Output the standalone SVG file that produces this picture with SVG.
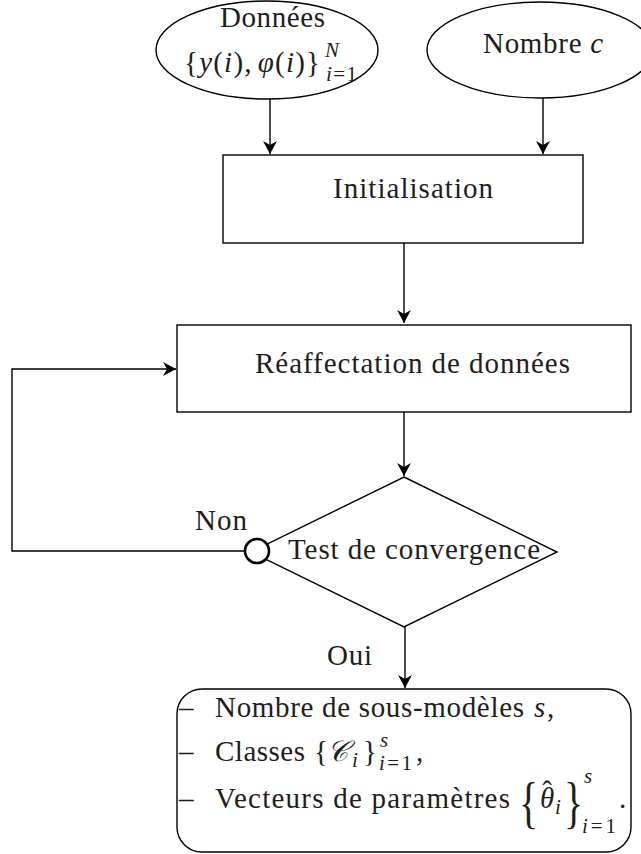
<svg xmlns="http://www.w3.org/2000/svg" width="641" height="854" viewBox="0 0 641 854">
<style>
.shape{fill:#fff;stroke:#000;stroke-width:1.4}
.conn{fill:none;stroke:#000;stroke-width:1.4}
text{font-family:"Liberation Serif","Times New Roman",serif;font-size:29px;fill:#1e1e1e}
.it{font-style:italic}
.up{font-style:normal}
.sm{font-size:21px}
.big{font-size:57px}
</style>
<defs>
<marker id="arr" markerUnits="userSpaceOnUse" markerWidth="16" markerHeight="16" viewBox="-14 -8 16 16" refX="0" refY="0" orient="auto">
<path d="M0,0 L-13,-7 L-9,0 L-13,7 Z" fill="#000"/>
</marker>
</defs>
<rect width="641" height="854" fill="#fff"/>
<g id="connectors">
<line class="conn" x1="270" y1="99" x2="270" y2="154" marker-end="url(#arr)"/>
<line class="conn" x1="543" y1="98" x2="543" y2="154" marker-end="url(#arr)"/>
<line class="conn" x1="404" y1="243" x2="404" y2="323" marker-end="url(#arr)"/>
<line class="conn" x1="404" y1="412" x2="404" y2="476" marker-end="url(#arr)"/>
<line class="conn" x1="405" y1="627" x2="405" y2="688" marker-end="url(#arr)"/>
<path class="conn" d="M244,551 H12 V369 H176" marker-end="url(#arr)"/>
<text x="195" y="530" textLength="52">Non</text>
<text x="327" y="665" textLength="45">Oui</text>
</g>
<g id="donnees">
<ellipse class="shape" cx="267" cy="50" rx="111" ry="49"/>
<text x="220" y="27" textLength="105">Données</text>
<text x="184" y="72" textLength="136">{<tspan class="it">y</tspan>(<tspan class="it">i</tspan>),<tspan class="it" dx="5">φ</tspan>(<tspan class="it">i</tspan>)}</text>
<text class="sm it" x="325" y="57">N</text>
<text class="sm" x="326" y="81" textLength="31"><tspan class="it">i</tspan>=1</text>
</g>
<g id="nombre">
<ellipse class="shape" cx="540" cy="50" rx="113" ry="48"/>
<text x="483" y="53" textLength="120">Nombre <tspan class="it">c</tspan></text>
</g>
<g id="init">
<rect class="shape" x="223" y="155" width="360" height="88"/>
<text x="333" y="198" textLength="160">Initialisation</text>
</g>
<g id="reaff">
<rect class="shape" x="177" y="325" width="454" height="87"/>
<text x="255" y="373" textLength="315">Réaffectation de données</text>
</g>
<g id="test">
<polygon class="shape" points="404,477 557,552 404,627 251,552"/>
<circle cx="257" cy="551" r="12" fill="#fff" stroke="#000" stroke-width="2.6"/>
<text x="288" y="559" textLength="252">Test de convergence</text>
</g>
<g id="resultat">
<rect class="shape" x="177" y="689" width="454" height="163" rx="25" ry="25"/>
<text x="179" y="717">–</text>
<text x="215" y="717" textLength="309">Nombre de sous-modèles</text>
<text x="534" y="717"><tspan class="it">s</tspan><tspan x="547">,</tspan></text>
<text x="179" y="761">–</text>
<text x="215" y="761" textLength="90">Classes</text>
<text x="314" y="761">{<tspan class="it" x="327">𝒞</tspan><tspan class="sm it" x="352" y="767">i</tspan><tspan x="363" y="761">}</tspan></text>
<text class="sm it" x="380" y="747">s</text>
<text class="sm" x="379" y="770" textLength="33"><tspan class="it">i</tspan>=1</text>
<text x="416" y="761">,</text>
<text x="179" y="808">–</text>
<text x="215" y="808" textLength="295">Vecteurs de paramètres</text>
<text class="big" transform="matrix(0.7 0 0 1 519 822)">{</text>
<text class="it" x="540" y="808">θ<tspan class="up" dx="-12" dy="-7">ˆ</tspan><tspan class="sm" x="555" y="814">i</tspan></text>
<text class="big" transform="matrix(0.7 0 0 1 564 822)">}</text>
<text class="sm it" x="584" y="783">s</text>
<text class="sm" x="582" y="833" textLength="34"><tspan class="it">i</tspan>=1</text>
<text x="619" y="808">.</text>
</g>
</svg>
